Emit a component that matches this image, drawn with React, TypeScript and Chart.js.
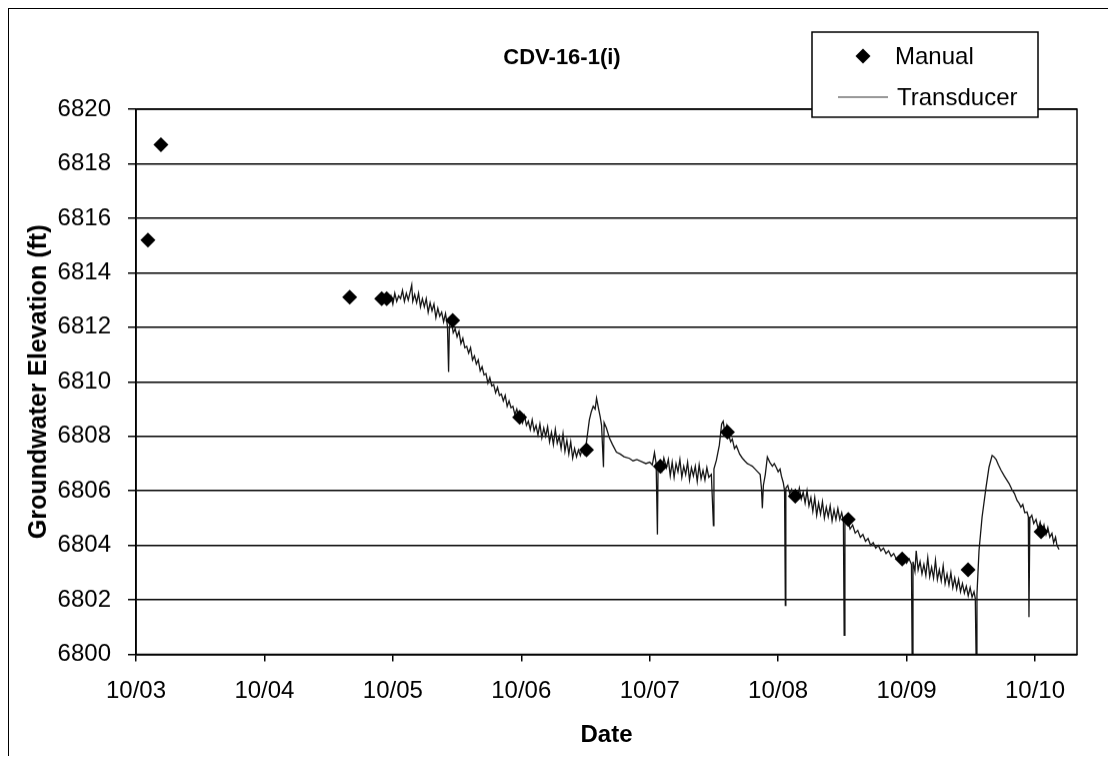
import React, { useEffect, useRef } from "react";
import { Chart, registerables } from "chart.js";

Chart.register(...registerables);

const FONT = "'Liberation Sans', Arial, Helvetica, sans-serif";

const chartTitle = "CDV-16-1(i)";
const xAxisTitle = "Date";
const yAxisTitle = "Groundwater Elevation (ft)";

// days after 10/03 00:00
const xTickDays = [0, 1, 2, 3, 4, 5, 6, 7];
const xTickLabels = ["10/03", "10/04", "10/05", "10/06", "10/07", "10/08", "10/09", "10/10"];
const xMaxDay = 7.327;
const yTicks = [6800, 6802, 6804, 6806, 6808, 6810, 6812, 6814, 6816, 6818, 6820];

const manualDays = [0.093, 0.194, 1.664, 1.913, 1.952, 2.466, 2.987, 3.508, 4.083, 4.605, 5.133, 5.546, 5.966, 6.479, 7.047];
const manualLevels = [6815.2, 6818.7, 6813.1, 6813.05, 6813.05, 6812.25, 6808.7, 6807.5, 6806.9, 6808.15, 6805.8, 6804.95, 6803.5, 6803.1, 6804.5];

const transducerDays = [
  1.968, 1.985, 2.0, 2.015, 2.03, 2.045, 2.06, 2.075, 2.09, 2.105, 2.12, 2.135, 2.147, 2.155, 2.17, 2.185, 2.2, 2.215, 2.23, 2.245,
  2.26, 2.275, 2.29, 2.305, 2.32, 2.335, 2.35, 2.365, 2.38, 2.395, 2.41, 2.425, 2.434, 2.44, 2.455, 2.47, 2.485, 2.5, 2.515, 2.53,
  2.545, 2.56, 2.575, 2.59, 2.605, 2.62, 2.635, 2.65, 2.665, 2.68, 2.695, 2.71, 2.725, 2.74, 2.755, 2.77, 2.785, 2.8, 2.815, 2.83,
  2.845, 2.86, 2.875, 2.89, 2.905, 2.92, 2.935, 2.95, 2.965, 2.98, 2.995, 3.01, 3.025, 3.04, 3.055, 3.07, 3.085, 3.1, 3.115, 3.13,
  3.145, 3.16, 3.175, 3.19, 3.205, 3.22, 3.235, 3.25, 3.265, 3.28, 3.295, 3.31, 3.325, 3.34, 3.355, 3.37, 3.385, 3.4, 3.415, 3.43,
  3.445, 3.46, 3.475, 3.49, 3.505, 3.516, 3.53, 3.545, 3.56, 3.575, 3.586, 3.6, 3.615, 3.625, 3.64, 3.645, 3.663, 3.687, 3.71, 3.741,
  3.77, 3.8, 3.842, 3.87, 3.9, 3.943, 3.97, 4.0, 4.02, 4.037, 4.05, 4.06, 4.065, 4.08, 4.095, 4.11, 4.13, 4.145, 4.16, 4.175,
  4.19, 4.205, 4.22, 4.235, 4.25, 4.265, 4.28, 4.295, 4.31, 4.325, 4.34, 4.355, 4.37, 4.385, 4.4, 4.415, 4.43, 4.445, 4.46, 4.48,
  4.496, 4.5, 4.519, 4.542, 4.56, 4.572, 4.585, 4.6, 4.615, 4.63, 4.643, 4.66, 4.675, 4.7, 4.721, 4.74, 4.76, 4.78, 4.799, 4.82,
  4.84, 4.86, 4.87, 4.877, 4.885, 4.9, 4.916, 4.935, 4.955, 4.97, 4.986, 5.0, 5.015, 5.025, 5.04, 5.05, 5.056, 5.06, 5.075, 5.09,
  5.105, 5.12, 5.135, 5.15, 5.165, 5.18, 5.195, 5.21, 5.225, 5.24, 5.255, 5.27, 5.285, 5.3, 5.315, 5.33, 5.345, 5.36, 5.375, 5.39,
  5.405, 5.42, 5.435, 5.45, 5.465, 5.48, 5.495, 5.508, 5.514, 5.52, 5.54, 5.56, 5.58, 5.6, 5.62, 5.64, 5.66, 5.68, 5.7, 5.72,
  5.74, 5.76, 5.78, 5.8, 5.82, 5.84, 5.86, 5.88, 5.9, 5.92, 5.94, 5.96, 5.98, 6.0, 6.02, 6.038, 6.043, 6.05, 6.065, 6.075,
  6.09, 6.105, 6.12, 6.135, 6.15, 6.165, 6.18, 6.195, 6.21, 6.225, 6.24, 6.255, 6.27, 6.285, 6.3, 6.315, 6.33, 6.345, 6.36, 6.375,
  6.39, 6.405, 6.42, 6.435, 6.45, 6.465, 6.48, 6.495, 6.51, 6.525, 6.535, 6.541, 6.548, 6.564, 6.588, 6.619, 6.642, 6.666, 6.68, 6.697,
  6.715, 6.736, 6.76, 6.798, 6.82, 6.84, 6.86, 6.876, 6.89, 6.905, 6.92, 6.938, 6.948, 6.953, 6.96, 6.975, 6.99, 7.008, 7.025, 7.04,
  7.055, 7.07, 7.086, 7.1, 7.115, 7.132, 7.145, 7.16, 7.171, 7.187,
];

const transducerLevels = [
  6812.95, 6813.15, 6812.85, 6813.25, 6812.95, 6813.15, 6813.05, 6813.35, 6812.95, 6813.25, 6813.0, 6813.3, 6813.55, 6812.95, 6813.2, 6812.9, 6813.25, 6812.75, 6813.05, 6812.75,
  6813.05, 6812.55, 6812.9, 6812.6, 6812.85, 6812.35, 6812.7, 6812.4, 6812.55, 6812.2, 6812.5, 6812.05, 6810.36, 6812.0, 6812.25, 6811.8, 6811.95, 6811.65, 6811.85, 6811.4,
  6811.6, 6811.25, 6811.3, 6811.05, 6811.25, 6810.8, 6810.95, 6810.65, 6810.8, 6810.4, 6810.55, 6810.25, 6810.3, 6809.95, 6810.15, 6809.85, 6809.9, 6809.6, 6809.8, 6809.5,
  6809.55, 6809.3, 6809.5, 6809.1, 6809.3, 6809.05, 6809.1, 6808.8, 6809.0, 6808.7, 6808.8, 6808.5, 6808.75, 6808.4, 6808.55, 6808.25, 6808.6, 6808.2, 6808.4, 6808.05,
  6808.45, 6807.95, 6808.3, 6808.0, 6808.35, 6807.8, 6808.15, 6807.7, 6808.25, 6807.75, 6808.0, 6807.55, 6808.1, 6807.45, 6807.85, 6807.35, 6807.8, 6807.2, 6807.55, 6807.25,
  6807.5, 6807.3, 6807.55, 6807.35, 6807.7, 6808.1, 6808.6, 6808.9, 6809.1, 6809.0, 6809.4, 6809.05, 6808.7, 6808.4, 6806.87, 6808.5, 6808.3, 6807.93, 6807.7, 6807.42,
  6807.35, 6807.25, 6807.19, 6807.1, 6807.15, 6807.06, 6807.0, 6807.05, 6806.95, 6807.4, 6807.0, 6804.4, 6806.9, 6807.1, 6806.75, 6807.2, 6806.85, 6807.15, 6806.55, 6807.05,
  6806.5, 6807.0, 6806.7, 6807.15, 6806.5, 6806.9, 6806.6, 6807.05, 6806.4, 6806.85, 6806.55, 6806.9, 6806.35, 6806.95, 6806.45, 6806.75, 6806.4, 6806.85, 6806.5, 6806.6,
  6804.73, 6806.8, 6807.12, 6807.67, 6808.45, 6808.55, 6808.15, 6808.4, 6808.05, 6807.8, 6807.9, 6807.55, 6807.65, 6807.35, 6807.2, 6807.1, 6807.0, 6806.95, 6806.9, 6806.8,
  6806.7, 6806.6, 6806.1, 6805.36, 6806.2, 6806.6, 6807.24, 6807.05, 6806.9, 6807.0, 6806.85, 6806.7, 6806.8, 6806.55, 6806.3, 6806.0, 6801.8, 6806.1, 6806.2, 6805.9,
  6806.05, 6805.7, 6806.0, 6805.75, 6806.1, 6805.7, 6805.95, 6805.55, 6806.0, 6805.45, 6805.75, 6805.25, 6805.75, 6805.1, 6805.55, 6805.15, 6805.6, 6805.0, 6805.4, 6805.05,
  6805.45, 6804.9, 6805.3, 6804.95, 6805.35, 6804.95, 6805.2, 6804.9, 6800.7, 6804.8, 6804.95, 6804.6, 6804.75, 6804.45, 6804.55, 6804.3, 6804.4, 6804.15, 6804.25, 6804.0,
  6804.1, 6803.9, 6804.0, 6803.8, 6803.9, 6803.7, 6803.8, 6803.6, 6803.7, 6803.5, 6803.6, 6803.45, 6803.55, 6803.35, 6803.5, 6803.3, 6800.03, 6803.4, 6803.05, 6803.8,
  6803.1, 6803.4, 6802.95, 6803.3, 6802.9, 6803.55, 6802.85, 6803.2, 6802.8, 6803.45, 6802.75, 6803.1, 6802.7, 6803.25, 6802.6, 6802.95, 6802.55, 6803.0, 6802.45, 6802.8,
  6802.4, 6802.75, 6802.3, 6802.6, 6802.25, 6802.5, 6802.15, 6802.45, 6802.1, 6802.3, 6802.05, 6800.0, 6802.2, 6803.8, 6805.04, 6806.14, 6806.87, 6807.3, 6807.25, 6807.15,
  6806.95, 6806.75, 6806.55, 6806.27, 6806.05, 6805.9, 6805.65, 6805.54, 6805.4, 6805.5, 6805.2, 6805.22, 6805.05, 6801.37, 6805.0, 6805.1, 6804.8, 6804.95, 6804.6, 6804.85,
  6804.5, 6804.75, 6804.4, 6804.65, 6804.3, 6804.44, 6804.1, 6804.3, 6804.0, 6803.85,
];

const legendLabels = ["Manual", "Transducer"];

export default function App() {
  const canvasRef = useRef<HTMLCanvasElement | null>(null);

  useEffect(() => {
    if (!canvasRef.current) return;

    const manualData = manualDays.map((d, i) => ({ x: d, y: manualLevels[i] }));
    const transData = transducerDays.map((d, i) => ({ x: d, y: transducerLevels[i] }));

    const framePlugin = {
      id: "frameAndLegend",
      afterDraw(chart: any) {
        const { ctx, chartArea } = chart;
        ctx.save();
        ctx.strokeStyle = "#000";
        ctx.lineWidth = 1.5;
        ctx.strokeRect(chartArea.left, chartArea.top, chartArea.right - chartArea.left, chartArea.bottom - chartArea.top);

        // title
        ctx.fillStyle = "#000";
        ctx.font = `bold 22px ${FONT}`;
        ctx.textAlign = "center";
        ctx.textBaseline = "middle";
        ctx.fillText(chartTitle, 553, 49);

        // legend box
        const bx = 803, by = 23, bw = 226, bh = 85;
        ctx.fillStyle = "#fff";
        ctx.fillRect(bx, by, bw, bh);
        ctx.lineWidth = 1.5;
        ctx.strokeStyle = "#000";
        ctx.strokeRect(bx, by, bw, bh);

        // diamond
        const dx = 854, dy = 47, r = 7.5;
        ctx.fillStyle = "#000";
        ctx.beginPath();
        ctx.moveTo(dx - r, dy);
        ctx.lineTo(dx, dy - r);
        ctx.lineTo(dx + r, dy);
        ctx.lineTo(dx, dy + r);
        ctx.closePath();
        ctx.fill();

        // line
        ctx.strokeStyle = "#333";
        ctx.lineWidth = 1.2;
        ctx.beginPath();
        ctx.moveTo(829, 88);
        ctx.lineTo(879, 88);
        ctx.stroke();

        ctx.fillStyle = "#000";
        ctx.font = `24px ${FONT}`;
        ctx.textBaseline = "middle";
        ctx.textAlign = "left";
        ctx.fillText(legendLabels[0], 886, 48);
        ctx.fillText(legendLabels[1], 888, 89);
        ctx.restore();
      },
    };

    const chart = new Chart(canvasRef.current, {
      type: "scatter",
      data: {
        datasets: [
          {
            label: legendLabels[0],
            data: manualData,
            showLine: false,
            pointStyle: "rectRot",
            pointRadius: 7.5,
            pointBackgroundColor: "#000",
            pointBorderColor: "#000",
            pointBorderWidth: 0,
          },
          {
            label: legendLabels[1],
            data: transData,
            showLine: true,
            pointRadius: 0,
            borderColor: "#151515",
            borderWidth: 1.3,
            tension: 0,
          },
        ],
      },
      options: {
        animation: false,
        responsive: true,
        maintainAspectRatio: false,
        layout: { padding: { left: 11, right: 35, top: 100, bottom: 3 } },
        plugins: {
          legend: { display: false },
          tooltip: { enabled: false },
          title: { display: false },
        },
        scales: {
          x: {
            type: "linear",
            min: 0,
            max: xMaxDay,
            afterBuildTicks: (s: any) => {
              s.ticks = xTickDays.map((v) => ({ value: v }));
            },
            afterFit: (s: any) => {
              s.height = 99;
            },
            grid: { drawOnChartArea: false, drawTicks: true, tickLength: 7, color: "#000", lineWidth: 1.5 },
            border: { display: true, color: "#000", width: 1.5 },
            ticks: {
              color: "#000",
              font: { family: FONT, size: 24 },
              padding: 15,
              maxRotation: 0,
              autoSkip: false,
              callback: (_v: any, i: number) => xTickLabels[i],
            },
            title: {
              display: true,
              text: xAxisTitle,
              color: "#000",
              font: { family: FONT, size: 24, weight: "bold" },
              padding: { top: 4, bottom: 4 },
            },
          },
          y: {
            type: "linear",
            min: 6800,
            max: 6820,
            afterBuildTicks: (s: any) => {
              s.ticks = yTicks.map((v) => ({ value: v }));
            },
            afterFit: (s: any) => {
              s.width = 116;
            },
            grid: { drawOnChartArea: true, drawTicks: true, tickLength: 8, color: "#000", lineWidth: 1.5 },
            border: { display: true, color: "#000", width: 1.5 },
            ticks: {
              color: "#000",
              font: { family: FONT, size: 24 },
              padding: 17,
              callback: (v: any) => String(v),
            },
            title: {
              display: true,
              text: yAxisTitle,
              color: "#000",
              font: { family: FONT, size: 25, weight: "bold" },
              padding: { top: 4, bottom: 4 },
            },
          },
        },
      },
      plugins: [framePlugin],
    } as any);

    return () => chart.destroy();
  }, []);

  return (
    <div
      style={{
        width: 1106,
        height: 748,
        boxSizing: "border-box",
        borderTop: "1.5px solid #000",
        borderLeft: "1.5px solid #000",
        borderRight: "1.5px solid #000",
        background: "#fff",
        position: "relative",
      }}
    >
      <div style={{ position: "relative", width: 1103, height: 746.5 }}>
        <canvas ref={canvasRef} />
      </div>
    </div>
  );
}
